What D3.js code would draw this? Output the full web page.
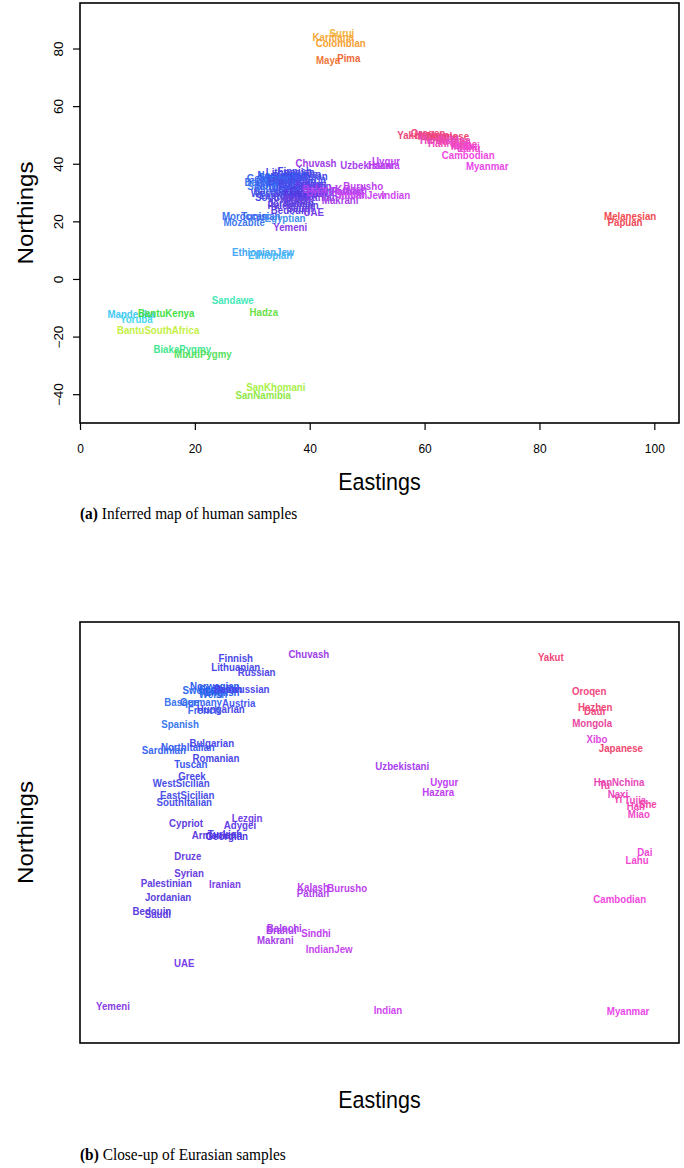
<!DOCTYPE html>
<html><head><meta charset="utf-8">
<script src="https://cdn.jsdelivr.net/npm/d3@7"></script>
<style>body{margin:0;background:#fff} svg{display:block}</style>
</head><body><svg id="c" width="684" height="1168"></svg>
<script>
// ---------- DATA ----------
const populations = [
 "Surui","Karitiana","Colombian","Maya","Pima",
 "Mandenka","Yoruba","BantuKenya","BantuSouthAfrica","Sandawe","Hadza","BiakaPygmy","MbutiPygmy","SanKhomani","SanNamibia","EthiopianJew","Ethiopian",
 "Mozabite","Moroccan","Tunisian","Egyptian",
 "Melanesian","Papuan",
 "Finnish","Lithuanian","Russian","Norwegian","Swedish","Irish","Scottish","Welsh","English","Polish","Belorussian","Basque","Germany","Austria","French","Hungarian","Spanish","NorthItalian","Bulgarian","Sardinian","Romanian","Tuscan","Greek","WestSicilian","EastSicilian","SouthItalian",
 "Lezgin","Cypriot","Adygei","Armenian","Turkish","Georgian","Druze","Syrian","Palestinian","Iranian","Jordanian","Bedouin","Saudi","UAE","Yemeni",
 "Chuvash","Uzbekistani","Uygur","Hazara","Kalash","Pathan","Burusho","Balochi","Brahui","Sindhi","Makrani","IndianJew","Indian",
 "Yakut","Oroqen","Hezhen","Daur","Mongola","Xibo","Japanese","HanNchina","Tu","Naxi","Yi","Tujia","Han","She","Miao","Dai","Lahu","Cambodian","Myanmar"
];
const popColors = [
 "#f5b335","#f5a838","#f5a030","#f07838","#f06838",
 "#45c8f5","#48d8f0","#45e045","#c4f045","#45e8b8","#6ae045","#45e890","#55e060","#a8f048","#90e848","#45a8f5","#45b8f5",
 "#3a78f0","#3a70f0","#3a68f0","#4590f0",
 "#f04a50","#f04a58",
 "#4a48e8","#4848e8","#5048e8","#2a58f0","#2a68f0","#2a68f0","#2a60f0","#2a70f0","#2a60f0","#3a50f0","#4a48e8","#3a78f0","#3a68f0","#4a58f0","#3a68f0","#4a48e8","#3a78f0","#3a60f0","#4a48e8","#3a68f0","#4a48e8","#3a58f0","#4a48e8","#4a50e8","#4a50e8","#4a50e8",
 "#7040e8","#6040e0","#6040e8","#6040e0","#5038e8","#5038e0","#6a40e0","#6a40e0","#6040e0","#7a40e8","#5a40e0","#5a40e0","#6040e0","#7a40e8","#8a40e8",
 "#a040e8","#a840f0","#c040f0","#c040f0","#b840f0","#b040f0","#c040f0","#b040f0","#a840f0","#c040f0","#a840e8","#c848f0","#d048f0",
 "#f04878","#f04880","#f04878","#f04880","#e848a0","#e048e0","#f04870","#e848b8","#f048a8","#e848c0","#f048b0","#f048c0","#f048b8","#f048a8","#f048c8","#f048d8","#f048d0","#f048e0","#e848e8"
];
// Panel (a): inferred map of all samples
const eastA = [
 45.6,44.1,45.4,43.2,46.8,
 8.9,9.8,15.0,13.6,26.6,32.0,17.8,21.4,34.1,31.9,31.9,33.1,
 28.6,28.7,31.5,35.7,
 95.8,94.9,
 37.4,36.6,38.7,35.2,34.5,33.1,34.1,34.8,35.5,37.6,38.3,31.7,32.7,39.9,33.4,36.9,32.4,35.3,38.3,34.1,38.8,35.5,36.9,34.7,35.9,35.3,
 41.1,36.6,40.1,39.2,38.3,40.2,37.8,38.1,37.1,42.1,36.7,36.6,38.3,40.7,36.6,
 41.1,50.0,53.3,52.9,47.2,46.5,49.3,41.8,42.1,47.0,45.3,49.1,55.0,
 57.5,60.6,61.3,62.2,62.3,64.1,63.9,63.6,63.2,65.6,65.3,66.2,62.2,67.6,66.5,68.3,67.7,67.6,70.9
];
const northA = [
 85.4,84.0,81.9,76.0,76.7,
 -12.2,-13.9,-11.8,-17.7,-7.3,-11.5,-24.3,-26.1,-37.5,-40.3,9.4,8.3,
 19.8,21.9,21.9,21.2,
 21.9,19.8,
 37.5,37.1,36.4,36.1,35.4,34.7,34.7,34.3,34.7,35.4,35.7,33.7,35.0,34.7,33.7,34.0,32.3,32.6,33.0,30.5,32.3,31.6,30.9,29.8,29.1,28.4,
 32.3,28.4,33.0,29.8,29.1,30.5,27.7,27.1,25.7,28.4,26.4,23.9,24.6,23.2,18.0,
 40.2,39.6,40.9,39.6,31.2,30.5,32.3,31.2,30.2,29.5,27.4,29.1,29.1,
 50.0,50.7,50.0,49.3,49.6,48.9,49.6,48.2,47.9,47.2,46.8,46.5,47.2,46.8,46.1,46.1,45.5,43.0,39.2
];
// Panel (b): close-up of Eurasian samples (separate inferred map, unitless)
const eurasianPops = [
 "Finnish","Lithuanian","Russian","Norwegian","Swedish","Irish","Scottish","Welsh","English","Polish","Belorussian","Basque","Germany","Austria","French","Hungarian","Spanish","NorthItalian","Bulgarian","Sardinian","Romanian","Tuscan","Greek","WestSicilian","EastSicilian","SouthItalian",
 "Lezgin","Cypriot","Adygei","Armenian","Turkish","Georgian","Druze","Syrian","Palestinian","Iranian","Jordanian","Bedouin","Saudi","UAE","Yemeni",
 "Chuvash","Uzbekistani","Uygur","Hazara","Kalash","Pathan","Burusho","Balochi","Brahui","Sindhi","Makrani","IndianJew","Indian",
 "Yakut","Oroqen","Hezhen","Daur","Mongola","Xibo","Japanese","HanNchina","Tu","Naxi","Yi","Tujia","Han","She","Miao","Dai","Lahu","Cambodian","Myanmar"
];
const eastB = [
 26.0,26.0,29.5,22.5,20.4,21.7,23.0,22.2,23.7,24.7,27.0,17.0,20.2,26.5,20.7,23.5,16.7,18.0,22.0,14.0,22.7,18.5,18.7,16.9,17.9,17.4,
 27.9,17.7,26.7,22.4,24.2,24.5,18.0,18.2,14.4,24.2,14.7,12.0,13.0,17.4,5.5,
 38.2,53.8,60.8,59.8,38.9,38.9,44.6,34.1,33.6,39.4,32.6,41.6,51.4,
 78.6,85.0,86.0,86.0,85.5,86.3,90.3,90.0,87.6,89.8,89.8,92.7,92.8,94.8,93.3,94.3,93.0,90.1,91.5
];
const northB = [
 91.4,89.3,88.1,84.8,83.8,83.6,84.1,82.9,83.4,84.1,84.1,81.0,81.0,80.8,79.1,79.3,75.8,70.3,71.3,69.6,67.7,66.3,63.4,61.8,58.9,57.2,
 53.4,52.3,51.8,49.4,49.6,49.2,44.4,40.4,38.0,37.8,34.7,31.4,30.6,19.0,8.8,
 92.4,65.8,62.0,59.6,37.1,35.6,36.8,27.3,26.8,26.1,24.5,22.3,7.8,
 91.7,83.6,79.8,78.9,76.0,72.2,70.1,62.0,61.3,59.1,58.0,57.7,56.3,56.8,54.4,45.4,43.5,34.2,7.6
];
const xTicksA = [0,20,40,60,80,100];
const yTicksA = [-40,-20,0,20,40,60,80];
const xLabel = "Eastings", yLabel = "Northings";
const captionA = ["(a)", " Inferred map of human samples"];
const captionB = ["(b)", " Close-up of Eurasian samples"];

// ---------- DRAW ----------
const svg = d3.select("#c");
const SANS = "'Liberation Sans', Arial, Helvetica, sans-serif";
const SERIF = "'Liberation Serif', 'Times New Roman', serif";
const STRETCH = 1.12;
const colorOf = name => popColors[populations.indexOf(name)];

function panel(top, bottom, xDom, yDom, names, east, north, showAxes, captionY, caption, xlabY) {
  const x = d3.scaleLinear().domain(xDom).range([80, 679]);
  const y = d3.scaleLinear().domain(yDom).range([bottom, top]);
  const g = svg.append("g");
  const pts = names.map((n, i) => ({n, e: east[i], v: north[i]}));
  g.selectAll("text.lab").data(pts).enter().append("text")
    .attr("class", "lab")
    .attr("transform", d => `translate(${x(d.e)},${y(d.v)}) scale(1,${STRETCH})`)
    .attr("dy", "0.36em")
    .attr("text-anchor", "middle")
    .attr("font-family", SANS).attr("font-weight", "bold").attr("font-size", 9.7)
    .attr("fill", d => colorOf(d.n))
    .text(d => d.n);
  g.append("rect").attr("x", 80).attr("y", top).attr("width", 599).attr("height", bottom - top)
    .attr("fill", "none").attr("stroke", "#000").attr("stroke-width", 1.6);
  if (showAxes) {
    const xa = g.append("g").attr("transform", `translate(0,${bottom})`)
      .call(d3.axisBottom(x).tickValues(xTicksA).tickSize(7).tickFormat(d3.format("d")));
    const ya = g.append("g").attr("transform", `translate(80,0)`)
      .call(d3.axisLeft(y).tickValues(yTicksA).tickSize(7).tickFormat(d3.format("d")));
    [xa, ya].forEach(a => { a.select(".domain").remove(); a.selectAll("line").attr("stroke", "#000").attr("stroke-width", 1.2); });
    xa.selectAll("text").attr("font-family", SANS).attr("font-size", 12).attr("fill", "#000")
      .attr("y", 0).attr("dy", 0)
      .attr("transform", `translate(0,30) scale(1,${STRETCH})`);
    ya.selectAll("text").attr("font-family", SANS).attr("font-size", 12).attr("fill", "#000")
      .attr("x", 0).attr("dy", 0).attr("text-anchor", "middle")
      .attr("transform", `translate(-17,0) scale(1,${STRETCH}) rotate(-90)`);
  }
  g.append("text").attr("transform", `translate(379.5,${xlabY}) scale(1,${STRETCH})`)
    .attr("text-anchor", "middle").attr("font-family", SANS).attr("font-size", 21.5).text(xLabel);
  g.append("text").attr("transform", `translate(33,${(top + bottom) / 2}) scale(1,${STRETCH}) rotate(-90)`)
    .attr("text-anchor", "middle").attr("font-family", SANS).attr("font-size", 21.5).text(yLabel);
  const cap = g.append("text").attr("transform", `translate(80,${captionY}) scale(1,1.05)`)
    .attr("font-family", SERIF).attr("font-size", 15.4).attr("fill", "#000");
  cap.append("tspan").attr("font-weight", "bold").text(caption[0]);
  cap.append("tspan").text(caption[1]);
}

panel(3, 423, [0, 104.3], [-50, 95.8], populations, eastA, northA, true, 519, captionA, 490);
panel(622, 1043, [0, 100], [0, 100], eurasianPops, eastB, northB, false, 1160, captionB, 1108);
</script></body></html>
